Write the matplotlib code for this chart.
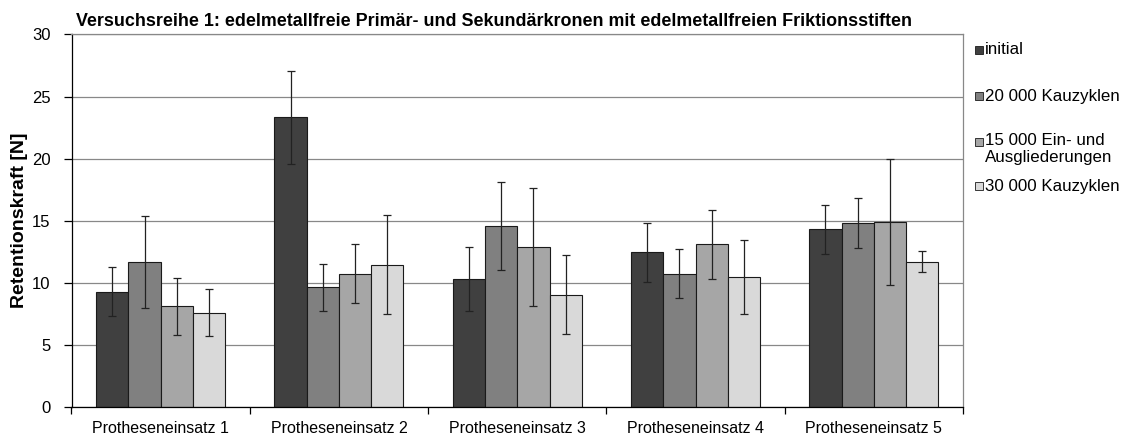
import numpy as np
import matplotlib.pyplot as plt
from matplotlib.patches import Rectangle

plt.rcParams['font.family'] = ['Liberation Sans', 'DejaVu Sans']

# data
groups = ['Protheseneinsatz 1', 'Protheseneinsatz 2', 'Protheseneinsatz 3',
          'Protheseneinsatz 4', 'Protheseneinsatz 5']
series = ['initial', '20 000 Kauzyklen', '15 000 Ein- und\nAusgliederungen', '30 000 Kauzyklen']
initial   = [9.3, 23.35, 10.3, 12.45, 14.3]
kau20     = [11.7, 9.65, 14.55, 10.75, 14.8]
einaus15  = [8.1, 10.75, 12.9, 13.1, 14.9]
kau30     = [7.6, 11.45, 9.05, 10.45, 11.7]
err_init  = [2.0, 3.75, 2.6, 2.4, 2.0]
err_k20   = [3.7, 1.9, 3.55, 2.0, 2.0]
err_e15   = [2.3, 2.4, 4.75, 2.8, 5.1]
err_k30   = [1.9, 4.0, 3.2, 3.0, 0.85]
colors = ['#404040', '#808080', '#a6a6a6', '#d9d9d9']

values = [initial, kau20, einaus15, kau30]
errors = [err_init, err_k20, err_e15, err_k30]

W, H = 1127, 436
fig = plt.figure(figsize=(W/100, H/100), dpi=100)
ax = fig.add_axes([71.5/W, 1-407/H, 891.5/W, 372.5/H])

x = np.arange(len(groups))
w = 0.181
for i in range(4):
    pos = x + (i - 1.5) * w
    ax.bar(pos, values[i], w, color=colors[i], edgecolor='#1a1a1a', linewidth=0.8, zorder=2)
    ax.errorbar(pos, values[i], yerr=errors[i], fmt='none', ecolor='#222222',
                elinewidth=0.9, capsize=2.8, capthick=0.9, zorder=3)

ax.set_xlim(-0.5, 4.5)
ax.set_ylim(0, 30)
ax.set_yticks(range(0, 31, 5))
ax.yaxis.grid(True, color='#888888', linewidth=0.9, zorder=0)
ax.set_xticks(x)
ax.set_xticklabels(groups, fontsize=11.5)
ax.set_xticks(np.arange(-0.5, 5.0, 1), minor=True)
ax.tick_params(axis='x', which='major', length=0, pad=10)
ax.tick_params(axis='x', which='minor', length=5, width=0.9, direction='out')
ax.tick_params(axis='y', labelsize=12, length=6, width=0.9, direction='out', pad=9)
for s in ['top', 'right']:
    ax.spines[s].set_color('#888888')
    ax.spines[s].set_linewidth(0.9)
for s in ['left', 'bottom']:
    ax.spines[s].set_color('#000000')
    ax.spines[s].set_linewidth(0.9)
ax.set_ylabel('Retentionskraft [N]', fontsize=14, fontweight='bold')
ax.yaxis.set_label_coords((28-71.5)/891.5, 0.5)

fig.text(494/W, 1-22/H, 'Versuchsreihe 1: edelmetallfreie Primär- und Sekundärkronen mit edelmetallfreien Friktionsstiften',
         ha='center', va='center', fontsize=12.9, fontweight='bold')

# legend drawn in figure pixels
leg_y = [50, 96, 142, 186]
for c, lab, yy in zip(colors, series, leg_y):
    fig.patches.append(Rectangle((975/W, 1-(yy+4)/H), 8/W, 8/H,
                                 transform=fig.transFigure, facecolor=c,
                                 edgecolor='#1a1a1a', linewidth=0.6))
    fig.text(985/W, 1-(yy-9)/H if '\n' in lab else 1-yy/H, lab, ha='left',
             va='top' if '\n' in lab else 'center', fontsize=12.2, linespacing=1.15)

fig.savefig('out.png', dpi=100)
